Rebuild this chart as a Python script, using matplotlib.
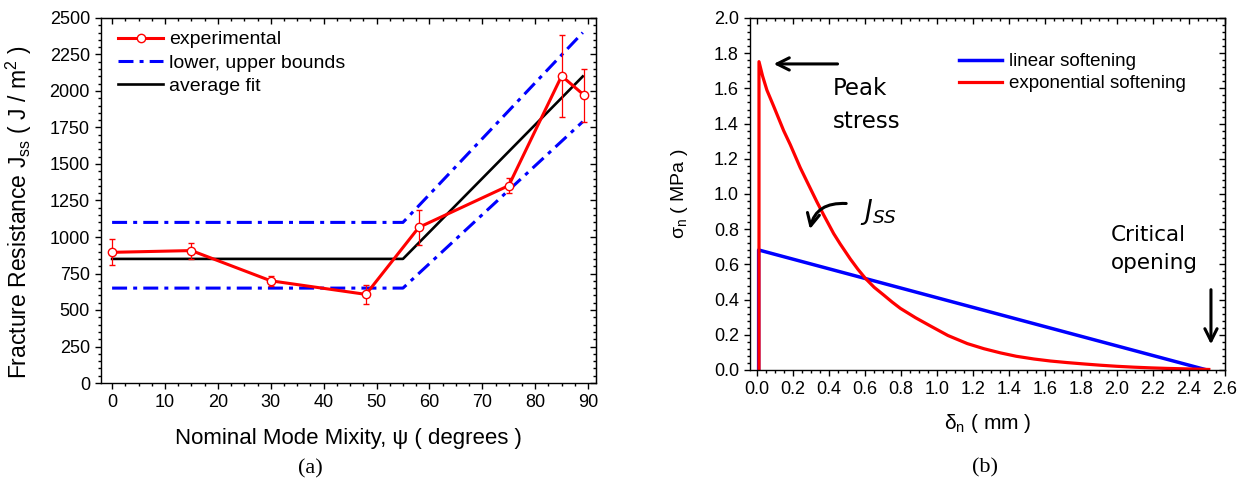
import numpy as np
import matplotlib
matplotlib.use("Agg")
import matplotlib.pyplot as plt
from matplotlib.lines import Line2D
from matplotlib.ticker import MultipleLocator, FormatStrFormatter

plt.rcParams['font.family'] = ['Liberation Sans', 'DejaVu Sans']
plt.rcParams['mathtext.fontset'] = 'custom'
plt.rcParams['mathtext.rm'] = 'Liberation Sans'
plt.rcParams['mathtext.it'] = 'Liberation Sans:italic'

# (a) fracture resistance vs mode mixity
psi = [0, 15, 30, 48, 58, 75, 85, 89.3]
jss = [895, 907, 700, 607, 1066, 1352, 2103, 1970]
jss_err = [88, 55, 33, 65, 118, 53, 282, 180]
fit_psi = [0, 55, 89]
fit_avg = [850, 850, 2100]
upper_psi = [0, 55, 89]
upper = [1100, 1100, 2400]
lower_psi = [0, 55, 89]
lower = [650, 650, 1790]

# (b) traction-separation laws
lin_d = [0.008, 0.008, 2.5]
lin_s = [0.0, 0.682, 0.0]
exp_d = [0.01, 0.01, 0.03, 0.054, 0.091, 0.147, 0.184, 0.239, 0.277, 0.332, 0.37,
         0.425, 0.462, 0.518, 0.56, 0.601, 0.65, 0.703, 0.75, 0.796, 0.88, 0.963,
         1.06, 1.168, 1.26, 1.353, 1.44, 1.538, 1.63, 1.724, 1.82, 1.91, 2.0,
         2.095, 2.19, 2.28, 2.4, 2.51]
exp_s = [0.0, 1.752, 1.67, 1.59, 1.50, 1.36, 1.28, 1.15, 1.07, 0.955, 0.88,
         0.775, 0.715, 0.63, 0.572, 0.521, 0.47, 0.426, 0.386, 0.350, 0.297, 0.25,
         0.196, 0.150, 0.121, 0.097, 0.078, 0.0625, 0.051, 0.042, 0.034, 0.027, 0.021,
         0.016, 0.012, 0.009, 0.006, 0.003]

W, H = 1253, 493
fig = plt.figure(figsize=(W / 100, H / 100), dpi=100)
ax1 = fig.add_axes([101 / W, 1 - 383 / H, 495 / W, 365 / H])
ax2 = fig.add_axes([750 / W, 1 - 370 / H, 475 / W, 352 / H])


def style_axes(ax):
    ax.tick_params(which='both', direction='out', labelsize=13, width=1.0)
    ax.tick_params(which='major', length=4, pad=4)
    ax.tick_params(which='minor', length=2.5)
    for s in ax.spines.values():
        s.set_linewidth(1.0)
    top = ax.secondary_xaxis('top')
    right = ax.secondary_yaxis('right')
    top.xaxis.set_major_locator(ax.xaxis.get_major_locator())
    top.xaxis.set_minor_locator(ax.xaxis.get_minor_locator())
    right.yaxis.set_major_locator(ax.yaxis.get_major_locator())
    right.yaxis.set_minor_locator(ax.yaxis.get_minor_locator())
    for sec in (top, right):
        sec.tick_params(which='both', direction='in', labeltop=False, labelright=False, width=1.0)
        sec.tick_params(which='major', length=4)
        sec.tick_params(which='minor', length=2.5)


# ---- panel (a)
dd = (4.9, 2.0, 1.3, 2.0)
ax1.plot(upper_psi, upper, color='#0000ff', lw=2.2, dashes=dd)
ax1.plot(lower_psi, lower, color='#0000ff', lw=2.2, dashes=dd)
ax1.plot(fit_psi, fit_avg, color='black', lw=1.9)
ax1.errorbar(psi, jss, yerr=jss_err, color='red', lw=2.2, elinewidth=0.9, capsize=2.5,
             capthick=0.9, marker='o', ms=6, mfc='white', mec='red', mew=1.0)
ax1.set_xlim(-2.1, 91.5)
ax1.set_ylim(0, 2500)
ax1.xaxis.set_major_locator(MultipleLocator(10))
ax1.xaxis.set_minor_locator(MultipleLocator(2.5))
ax1.yaxis.set_major_locator(MultipleLocator(250))
ax1.yaxis.set_minor_locator(MultipleLocator(50))
style_axes(ax1)
ax1.set_xlabel('Nominal Mode Mixity, ψ ( degrees )', fontsize=16, va='top')
ax1.xaxis.set_label_coords(0.5, -0.123)
ax1.set_ylabel(r'Fracture Resistance J$_{\rm ss}$ ( J / m$^{2}$ )', fontsize=16.5)
ax1.yaxis.set_label_coords(-0.135, 0.467)
leg_handles = [
    Line2D([], [], color='red', lw=2.2, marker='o', ms=6, mfc='white', mec='red'),
    Line2D([], [], color='#0000ff', lw=2.2, dashes=dd),
    Line2D([], [], color='black', lw=1.9),
]
ax1.legend(leg_handles, ['experimental', 'lower, upper bounds', 'average fit'],
           loc='upper left', bbox_to_anchor=(0.035, 0.965), frameon=False, fontsize=14,
           handlelength=2.3, handletextpad=0.3, labelspacing=0.3,
           borderpad=0, borderaxespad=0)

# ---- panel (b)
ax2.plot(lin_d, lin_s, color='#0000ff', lw=2.5, label='linear softening')
ax2.plot(exp_d, exp_s, color='#ff0000', lw=2.3, label='exponential softening',
         solid_joinstyle='round')
ax2.set_xlim(-0.04, 2.6)
ax2.set_ylim(0, 2.0)
ax2.xaxis.set_major_locator(MultipleLocator(0.2))
ax2.xaxis.set_minor_locator(MultipleLocator(0.05))
ax2.yaxis.set_major_locator(MultipleLocator(0.2))
ax2.yaxis.set_minor_locator(MultipleLocator(0.04))
ax2.xaxis.set_major_formatter(FormatStrFormatter('%.1f'))
ax2.yaxis.set_major_formatter(FormatStrFormatter('%.1f'))
style_axes(ax2)
ax2.set_xlabel(r'δ$_{\rm n}$ ( mm )', fontsize=15, va='top')
ax2.xaxis.set_label_coords(0.5, -0.12)
ax2.set_ylabel(r'σ$_{\rm n}$ ( MPa )', fontsize=14)
ax2.yaxis.set_label_coords(-0.126, 0.5)
ax2.legend(loc='upper left', bbox_to_anchor=(0.44, 0.9), frameon=False, fontsize=13.5,
           handlelength=2.3, handletextpad=0.35, labelspacing=0.25,
           borderpad=0, borderaxespad=0)

arw = dict(arrowstyle='->', color='black', lw=2.2, mutation_scale=22)
ax2.annotate('', xy=(0.076, 1.739), xytext=(0.462, 1.739), arrowprops=arw)
ax2.text(0.42, 1.505, 'Peak\nstress', family='DejaVu Sans', fontsize=16.5,
         linespacing=1.55, ha='left', va='center')
ax2.annotate('', xy=(0.29, 0.785), xytext=(0.51, 0.945),
             arrowprops=dict(arrowstyle='->', color='black', lw=2.2, mutation_scale=22,
                             connectionstyle='angle3,angleA=175,angleB=80'))
ax2.text(0.57, 0.895, r'$J_{SS}$', fontsize=19, ha='left', va='center',
         math_fontfamily='dejavusans')
ax2.text(1.966, 0.685, 'Critical\nopening', family='DejaVu Sans', fontsize=15.5,
         linespacing=1.5, ha='left', va='center')
ax2.annotate('', xy=(2.522, 0.13), xytext=(2.522, 0.472), arrowprops=arw)

fig.text(310 / W, 1 - 469 / H, '(a)', family='Liberation Serif', fontsize=16,
         ha='center', va='center')
fig.text(985 / W, 1 - 468 / H, '(b)', family='Liberation Serif', fontsize=16,
         ha='center', va='center')

fig.savefig('out.png', dpi=100)
